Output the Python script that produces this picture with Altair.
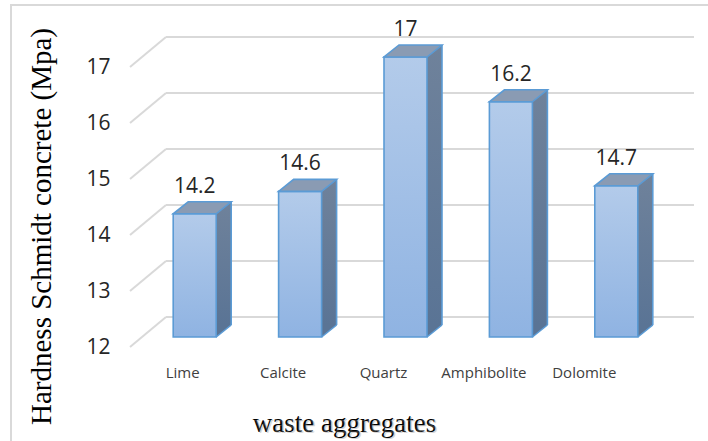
import altair as alt
import pandas as pd

# ---- data ----
categories = ["Lime", "Calcite", "Quartz", "Amphibolite", "Dolomite"]
values = [14.2, 14.6, 17.0, 16.2, 14.7]
value_labels = ["14.2", "14.6", "17", "16.2", "14.7"]
y_ticks = [12, 13, 14, 15, 16, 17]
y_min = 12

# ---- layout / style (pixels) ----
W, H = 527, 280
L, T = 142, 57
BLUE = "#5b9bd5"
TOP = "#8a9bb3"
SIDE_TOP = "#6f829b"
SIDE_BOT = "#5a7495"
GRID = "#d9d9d9"
label_shift = [-12, -17, -22, -27, -32]   # perspective shift of category labels

df = pd.DataFrame({"cat": categories, "val": values, "lab": value_labels,
                   "base": [y_min] * len(categories)})
grid = pd.DataFrame({"t": y_ticks})
one = pd.DataFrame({"a": [0]})

x_scale = alt.Scale(domain=categories, paddingInner=0.59, paddingOuter=0.295)
y_scale = alt.Scale(domain=[12, 17], nice=False, zero=False)

x_axis = alt.Axis(
    title="waste aggregates", domain=False, ticks=False, grid=False,
    labelFont="Open Sans", labelFontSize=15, labelColor="#404040",
    labelPadding=28, labelAngle=0,
    labelOffset={"condition": [{"test": f"datum.value == '{c}'", "value": s}
                               for c, s in zip(categories, label_shift)],
                 "value": 0},
    titleFont="Liberation Serif", titleFontSize=27, titleFontWeight="normal",
    titleColor="#000000", titleX=202, titleY=94, titleBaseline="alphabetic",
    titleAlign="center",
)
y_axis = alt.Axis(
    values=y_ticks, title="Hardness Schmidt concrete (Mpa)", domain=False,
    ticks=False, grid=False, labelPadding=32, labelOffset=10,
    labelFont="Open Sans", labelFontSize=21, labelColor="#262626",
    titleFont="Liberation Serif", titleFontSize=29, titleFontWeight="normal",
    titleColor="#000000", titleX=-101, titleY=169, titleBaseline="middle",
    titleAlign="center",
)

def X():
    return alt.X("cat:N", scale=x_scale, sort=categories, axis=x_axis,
                 title="waste aggregates")

def Y(field):
    return alt.Y(field, scale=y_scale, axis=y_axis,
                 title="Hardness Schmidt concrete (Mpa)")

frame = alt.Chart(one).mark_rect(fillOpacity=0, stroke=GRID, strokeWidth=2).encode(
    x=alt.value(11 - L), x2=alt.value(W + 60), y=alt.value(5 - T), y2=alt.value(H + 150)
)

back_grid = alt.Chart(grid).mark_rule(color=GRID, strokeWidth=2, yOffset=-20).encode(
    y=Y("t:Q"), x=alt.value(24), x2=alt.value(552)
)
slant_grid = alt.Chart(grid).mark_rule(color=GRID, strokeWidth=2, yOffset=10, y2Offset=-20).encode(
    y=Y("t:Q"), y2="t:Q", x=alt.value(-12), x2=alt.value(24)
)

side_grad = alt.Gradient(gradient="linear", x1=0, x2=0, y1=0, y2=1,
                         stops=[alt.GradientStop(color=SIDE_TOP, offset=0),
                                alt.GradientStop(color=SIDE_BOT, offset=1)])
front_grad = alt.Gradient(gradient="linear", x1=0, x2=0, y1=0, y2=1,
                          stops=[alt.GradientStop(color="#b3cbea", offset=0),
                                 alt.GradientStop(color="#8fb3e2", offset=1)])

base = alt.Chart(df)

side = base.mark_bar(size=15, xOffset=29, yOffset=-12, y2Offset=-12, fill=side_grad).encode(
    x=X(), y=Y("val:Q"), y2="base:Q"
)
side_tri = base.mark_point(shape="M21.5,0L36.5,-12L21.5,-12Z", size=4, filled=True,
                           fill=SIDE_BOT, opacity=1, strokeWidth=0).encode(
    x=X(), y=Y("base:Q")
)
front = base.mark_bar(size=43, fill=front_grad, stroke=BLUE, strokeWidth=1.6).encode(
    x=X(), y=Y("val:Q"), y2="base:Q"
)
top = base.mark_point(shape="M-21.5,0L21.5,0L36.5,-12L-6.5,-12Z", size=4, filled=True,
                      fill=TOP, stroke=BLUE, strokeWidth=1.6, opacity=1).encode(
    x=X(), y=Y("val:Q")
)
back_edge = base.mark_rule(color=BLUE, strokeWidth=1.6, xOffset=36.5, yOffset=-12, y2Offset=-12).encode(
    x=X(), y=Y("val:Q"), y2="base:Q"
)
bot_edge = base.mark_point(shape="M21.5,0L36.5,-12", size=4, filled=False,
                           stroke=BLUE, strokeWidth=1.6, opacity=1).encode(
    x=X(), y=Y("base:Q")
)
text = base.mark_text(dy=-27, font="Open Sans", fontSize=21, color="#262626").encode(
    x=X(), y=Y("val:Q"), text="lab:N"
)
title_shadow = alt.Chart(one).mark_text(
    text="waste aggregates", font="Liberation Serif", fontSize=27, color="#888888",
    opacity=0.35, baseline="alphabetic", align="center"
).encode(x=alt.value(204), y=alt.value(H + 96))

chart = alt.layer(
    frame, back_grid, slant_grid, side, side_tri, front, top, back_edge, bot_edge, text, title_shadow
).properties(
    width=W, height=H, background="white",
    padding={"left": L, "top": T, "right": 708 - L - W, "bottom": 441 - T - H},
    autosize=alt.AutoSizeParams(type="none"),
).configure_view(strokeWidth=0, stroke="transparent")

chart.save("out.html", embed_options={"renderer": "svg", "actions": False})
